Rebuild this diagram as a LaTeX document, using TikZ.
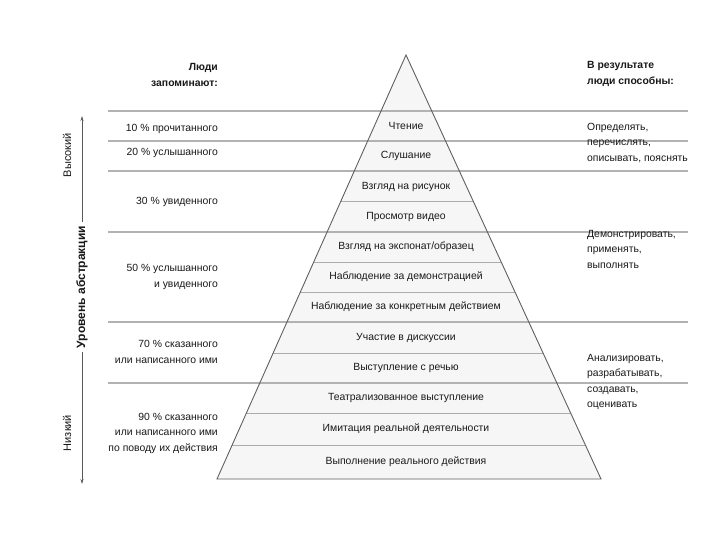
\documentclass[tikz,border=0pt]{standalone}
\usepackage{fontspec}
\setmainfont{Liberation Sans}
\usetikzlibrary{arrows.meta}
\begin{document}
\begin{tikzpicture}[x=1pt,y=-1pt,
  font=\fontsize{10.4}{15.5}\selectfont, text=black!90,
  sep/.style={draw=gray!60, line width=1.3pt},
  lay/.style={draw=gray!65, line width=1pt},
  edge/.style={draw=gray!75!black, line width=0.9pt},
  lbl/.style={inner sep=0pt, anchor=center},
  lt/.style={inner sep=0pt, align=right, anchor=east},
  rt/.style={inner sep=0pt, align=left, anchor=west},
  axis/.style={draw=gray!70!black, line width=0.8pt, -{Stealth[length=5pt,width=3pt]}}]
\useasboundingbox[fill=white] (0,0) rectangle (720,540);
% pyramid
\coordinate (apex) at (406,55);
\coordinate (bl) at (217,479);
\coordinate (br) at (601,479);
\fill[gray!7] (apex)--(bl)--(br)--cycle;
\begin{scope}
  \clip (apex)--(bl)--(br)--cycle;
  \foreach \y in {202,262,292,353,413,445} \draw[lay] (100,\y)--(700,\y);
\end{scope}
\foreach \y in {111,141,171,232,322,383} \draw[sep] (108,\y)--(688,\y);
\draw[edge, line join=miter] (apex)--(bl)--(br)--cycle;
% pyramid labels
\node[lbl] (p1) at (406,126) {Чтение};
\node[lbl] (p2) at (406,156) {Слушание};
\node[lbl] (p3) at (406,187) {Взгляд на рисунок};
\node[lbl] (p4) at (406,217) {Просмотр видео};
\node[lbl] (p5) at (406,247) {Взгляд на экспонат/образец};
\node[lbl] (p6) at (406,277) {Наблюдение за демонстрацией};
\node[lbl] (p7) at (406,307) {Наблюдение за конкретным действием};
\node[lbl] (p8) at (406,338) {Участие в дискуссии};
\node[lbl] (p9) at (406,368) {Выступление с речью};
\node[lbl] (p10) at (406,398) {Театрализованное выступление};
\node[lbl] (p11) at (406,429) {Имитация реальной деятельности};
\node[lbl] (p12) at (406,462) {Выполнение реального действия};
% left column
\node[lt, font=\fontsize{10.4}{15.5}\selectfont\bfseries] (hl) at (218,75) {Люди\\запоминают:};
\node[lt] (l1) at (218,129) {10 \% прочитанного};
\node[lt] (l2) at (218,153) {20 \% услышанного};
\node[lt] (l3) at (218,202) {30 \% увиденного};
\node[lt] (l4) at (218,277) {50 \% услышанного\\и увиденного};
\node[lt] (l5) at (218,352) {70 \% сказанного\\или написанного ими};
\node[lt] (l6) at (218,433) {90 \% сказанного\\или написанного ими\\по поводу их действия};
% right column
\node[rt, font=\fontsize{10.4}{15.5}\selectfont\bfseries] (hr) at (587,74) {В результате\\люди способны:};
\node[rt] (r1) at (587,143) {Определять,\\перечислять,\\описывать, пояснять};
\node[rt] (r2) at (587,249) {Демонстрировать,\\применять,\\выполнять};
\node[rt] (r3) at (587,382) {Анализировать,\\разрабатывать,\\создавать,\\оценивать};
% abstraction axis
\node[lbl, rotate=90, font=\fontsize{12}{14}\selectfont\bfseries] (ax) at (82,287) {Уровень абстракции};
\node[lbl, rotate=90, font=\fontsize{11}{13}\selectfont] (hi) at (67,155) {Высокий};
\node[lbl, rotate=90, font=\fontsize{11}{13}\selectfont] (lo) at (67,433) {Низкий};
\coordinate (top) at (82,116);
\coordinate (bot) at (82,484);
\draw[axis] (ax.east) ++(0,-4) -- (top);
\draw[axis] (ax.west) ++(0,4) -- (bot);
\end{tikzpicture}
\end{document}
